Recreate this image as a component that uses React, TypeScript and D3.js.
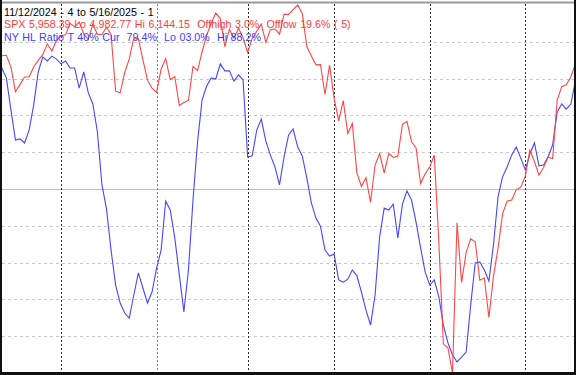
import React from "react";
import * as d3 from "d3";

const spx: number[] = [
  5983.99, 5985.38, 5949.17, 5870.62, 5893.62, 5916.98, 5917.11, 5948.71, 5969.34, 5987.37, 6021.63, 5998.74, 6032.38,
  6047.15, 6049.88, 6086.49, 6075.11, 6090.27, 6052.85, 6034.91, 6084.19, 6051.25, 6051.09, 6074.08, 6050.61, 5872.16, 5867.08, 5930.85, 5974.07, 6040.04, 6037.59, 5970.84, 5906.94, 5881.63,
  5868.55, 5942.47, 5975.38, 5909.03, 5918.25, 5827.04, 5836.22, 5842.91, 5949.91, 5937.34, 5996.66, 6049.24, 6086.37, 6118.71, 6101.24, 6012.28, 6067.7, 6039.31, 6071.17, 6040.53,
  5994.57, 6037.88, 6061.48, 6083.57, 6025.99, 6066.44, 6068.5, 6051.97, 6115.07, 6114.63, 6129.58, 6144.15, 6117.52, 6013.13, 5983.25, 5955.25, 5956.06, 5861.57, 5954.5,
  5849.72, 5778.15, 5842.63, 5738.52, 5770.2, 5614.56, 5572.07, 5599.3, 5521.52, 5638.94, 5675.12, 5614.66, 5675.29, 5662.89, 5667.56, 5767.57, 5776.65, 5712.2, 5693.31, 5580.94, 5611.85,
  5633.07, 5670.97, 5396.52, 5074.08, 5062.25, 4982.77, 5456.9, 5268.05, 5363.36, 5405.97, 5396.63, 5275.7, 5282.7, 5158.2, 5287.76, 5375.86, 5484.77, 5525.21, 5528.75, 5560.83, 5569.06,
  5604.14, 5686.67, 5650.38, 5606.91, 5631.28, 5663.94, 5659.91, 5844.19, 5886.55, 5892.58, 5916.93, 5958.38,
];

const hlRatio: number[] = [
  82.9, 80.2, 71.5, 63.3, 63.6, 62.5, 66.0, 72.8, 81.8, 85.9, 84.8, 86.1, 85.3, 84.0, 84.8, 82.9, 82.9, 77.4, 81.8, 76.1,
  73.1, 65.5, 51.1, 44.6, 33.4, 23.9, 19.0, 16.3, 14.9, 21.2, 27.2, 23.1, 19.0, 22.0, 28.5, 33.4, 46.7, 44.3, 36.7, 26.6,
  16.6, 28.0, 47.0, 62.8, 74.2, 78.0, 80.2, 79.9, 84.0, 82.1, 82.1, 79.3, 81.0, 79.6, 58.7, 59.0, 66.0, 69.0, 63.0, 59.2,
  56.0, 51.1, 58.7, 64.7, 66.3, 61.4, 59.0, 53.0, 46.2, 42.1, 39.9, 33.4, 31.8, 32.3, 25.3, 24.7, 25.5, 28.0, 26.4, 22.0,
  17.1, 13.0, 21.2, 37.0, 44.8, 44.3, 45.9, 36.7, 45.9, 49.5, 47.0, 41.0, 34.0, 27.4, 23.9, 25.3, 20.7, 13.0, 8.2, 4.9,
  3.0, 4.3, 5.7, 18.5, 29.9, 30.2, 28.0, 25.0, 34.8, 47.8, 53.3, 56.0, 59.2, 61.4, 58.4, 55.2, 59.5, 62.5, 56.3, 56.5,
  58.7, 62.0, 70.9, 73.1, 71.7, 73.1, 79.4,
];

// first trading day index of each month (Dec..May); Jan marks new year
const monthStarts: number[] = [13, 34, 54, 73, 94, 115];
const yearStarts: number[] = [34];

const titleLines: { text: string; color: string }[] = [
  { text: "11/12/2024 - 4 to 5/16/2025 - 1", color: "#000000" },
  { text: "SPX 5,958.39 Lo 4,982.77 Hi 6,144.15  Offhigh 3.0%  Offlow 19.6% ( 5)", color: "#ff3c3c" },
  { text: "NY HL Ratio T 40% Cur  79.4%  Lo 03.0%  Hi 88.2%", color: "#3c3cff" },
];

const W = 576;
const H = 375;
const top = 5;
const bottom = 373;
const left = 2;
const right = 574;

export default function App() {
  const x = d3.scaleLinear().domain([0, spx.length - 1]).range([1.8, 575.4]);
  const yS = d3.scaleLinear().domain([d3.min(spx)!, d3.max(spx)!]).range([bottom, top]);
  const yR = d3.scaleLinear().domain([0, 100]).range([bottom, top]);
  const lineS = d3.line<number>().x((_, i) => x(i)).y((d) => yS(d));
  const lineR = d3.line<number>().x((_, i) => x(i)).y((d) => yR(d));
  const gridVals = d3.range(10, 100, 10);

  return (
    <svg width={W} height={H} style={{ position: "absolute", left: 0, top: 0, background: "#fff" }}>
      <rect x={0} y={0} width={W} height={H} fill="#ffffff" />
      {gridVals.map((v) => (
        <line
          key={v}
          x1={left}
          x2={right}
          y1={Math.round(yR(v)) + 0.5}
          y2={Math.round(yR(v)) + 0.5}
          stroke={v === 50 ? "#bdbdbd" : "#c8c8c8"}
          strokeDasharray={v === 50 ? undefined : "3,3"}
          strokeWidth={1}
        />
      ))}
      {monthStarts.map((m) => (
        <line
          key={m}
          x1={Math.round(x(m)) + 0.5}
          x2={Math.round(x(m)) + 0.5}
          y1={4}
          y2={372}
          stroke={yearStarts.includes(m) ? "#ff5050" : "#303030"}
          strokeDasharray="2,2"
          strokeWidth={1}
        />
      ))}
      <path d={lineR(hlRatio) || ""} fill="none" stroke="#4646ff" strokeWidth={1.1} />
      <path d={lineS(spx) || ""} fill="none" stroke="#ff4646" strokeWidth={1.1} />
      {titleLines.map((t, i) => (
        <text
          key={i}
          x={4}
          y={15.5 + i * 12.5}
          fill={t.color}
          fontFamily="Liberation Sans, Arial, sans-serif"
          fontSize={10.7}
          wordSpacing={0.6}
          style={{ whiteSpace: "pre" }}
        >
          {t.text}
        </text>
      ))}
      <rect x={0} y={1.5} width={W} height={2} fill="#9a9a9a" />
      <rect x={0} y={0} width={2} height={H} fill="#101010" />
      <rect x={0} y={372} width={W} height={3} fill="#101010" />
      <rect x={574} y={0} width={2} height={H} fill="#101010" />
    </svg>
  );
}
